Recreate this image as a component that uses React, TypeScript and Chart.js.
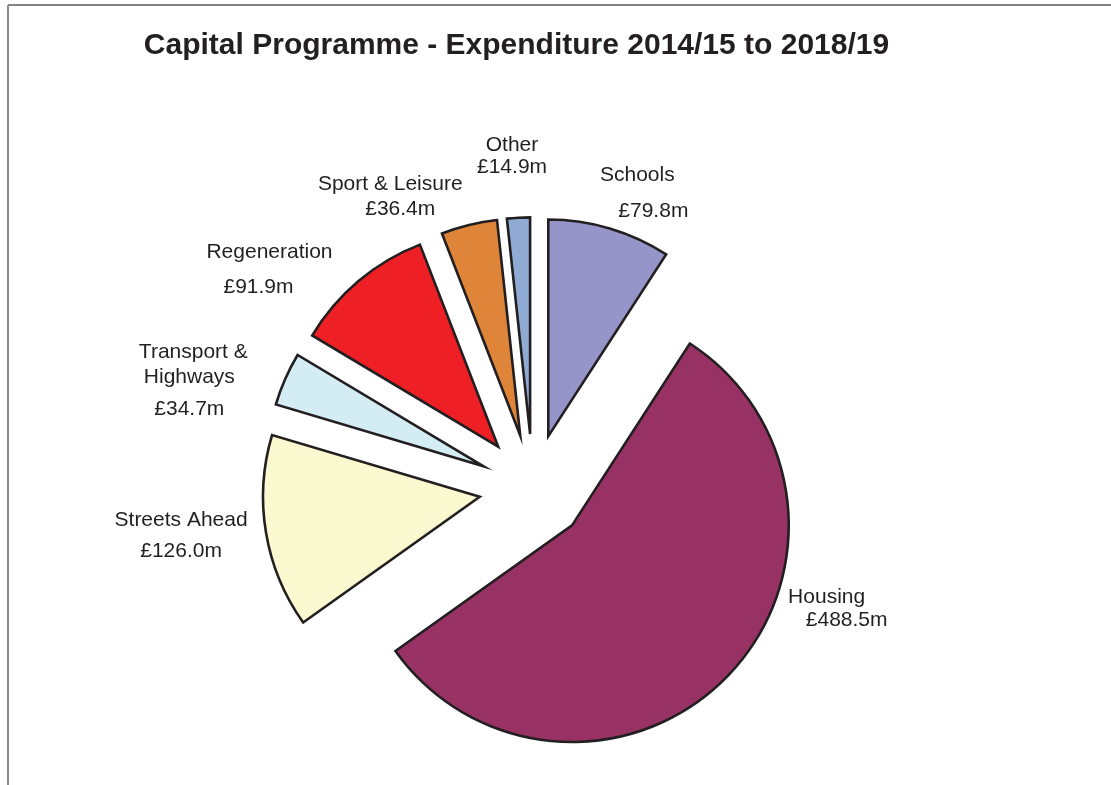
import React, { useEffect, useRef } from "react";
import { Chart, registerables } from "chart.js";

Chart.register(...registerables);

const title = "Capital Programme - Expenditure 2014/15 to 2018/19";
const categories = ["Schools", "Housing", "Streets Ahead", "Transport & Highways", "Regeneration", "Sport & Leisure", "Other"];
const values = [79.8, 488.5, 126.0, 34.7, 91.9, 36.4, 14.9];
const nameLines = [["Schools"], ["Housing"], ["Streets Ahead"], ["Transport &", "Highways"], ["Regeneration"], ["Sport & Leisure"], ["Other"]];
const colors = ["#9595C9", "#983265", "#FAF9CF", "#D4ECF3", "#EE1F25", "#DF853A", "#8FAAD3"];

// explode distance (px) applied equally to every slice
const EXPLODE = 54;

// label placement: polar (deg clockwise from top, multiple of outer radius) + per-line offsets in px
const labelAngle = [20.8, 111.5, 262.5, 287.6, 309.2, 334.75, 356.4];
const labelDist = [1.46, 1.506, 1.638, 1.659, 1.602, 1.49, 1.541];
const lineOffsets = [
  [[-8, -18], [8, 18]],
  [[-10, -11.5], [10, 11.5]],
  [[0, -15.5], [0, 15.5]],
  [[3, -28], [-1, -3], [-1, 29]],
  [[5.5, -17.5], [-5.5, 17.5]],
  [[-5, -12.5], [5, 12.5]],
  [[0, -11], [0, 11]],
];

const TEXT = "#231F20";

const decorPlugin = {
  id: "decor",
  beforeDraw(chart: any) {
    const ctx = chart.ctx;
    ctx.save();
    ctx.strokeStyle = "#5a5a5a";
    ctx.lineWidth = 1.5;
    ctx.beginPath();
    ctx.moveTo(8, 5);
    ctx.lineTo(1111, 5);
    ctx.stroke();
    ctx.strokeStyle = "#8a8a8a";
    ctx.lineWidth = 2;
    ctx.beginPath();
    ctx.moveTo(8, 5);
    ctx.lineTo(8, 785);
    ctx.stroke();
    ctx.fillStyle = TEXT;
    ctx.font = "bold 30px 'Liberation Sans', Arial, sans-serif";
    ctx.textAlign = "center";
    ctx.textBaseline = "middle";
    ctx.fillText(title, 516.5, 46);
    ctx.restore();
  },
  beforeDatasetDraw(chart: any, args: any) {
    const ctx = chart.ctx;
    const meta = args.meta;
    meta.data.forEach((arc: any) => {
      const mid = (arc.startAngle + arc.endAngle) / 2;
      ctx.save();
      ctx.translate(Math.cos(mid) * EXPLODE, Math.sin(mid) * EXPLODE);
      arc.draw(ctx, chart.chartArea);
      ctx.restore();
    });
    return false;
  },
  afterDatasetsDraw(chart: any) {
    const ctx = chart.ctx;
    const meta = chart.getDatasetMeta(0);
    ctx.save();
    ctx.fillStyle = TEXT;
    ctx.font = "21px 'Liberation Sans', Arial, sans-serif";
    ctx.textAlign = "center";
    ctx.textBaseline = "middle";
    meta.data.forEach((arc: any, i: number) => {
      const a = (labelAngle[i] * Math.PI) / 180;
      const d = labelDist[i] * arc.outerRadius;
      const cx = arc.x + Math.sin(a) * d;
      const cy = arc.y - Math.cos(a) * d;
      const lines = [...nameLines[i], `£${values[i].toFixed(1)}m`];
      lines.forEach((t, j) => {
        const off = lineOffsets[i][j] || [0, 0];
        ctx.fillText(t, cx + off[0], cy + off[1] + 1);
      });
    });
    ctx.restore();
  },
};

export default function App() {
  const ref = useRef<HTMLCanvasElement>(null);
  useEffect(() => {
    if (!ref.current) return;
    const chart = new Chart(ref.current, {
      type: "pie",
      data: {
        labels: categories,
        datasets: [
          {
            data: values,
            backgroundColor: colors,
            borderColor: "#231F20",
            borderWidth: 2.6,
            borderJoinStyle: "miter",
          } as any,
        ],
      },
      options: {
        animation: false,
        responsive: true,
        maintainAspectRatio: false,
        devicePixelRatio: 1,
        layout: { padding: { left: 315, right: 360, top: 270, bottom: 79 } },
        plugins: {
          legend: { display: false },
          title: { display: false },
          tooltip: { enabled: false },
        },
      },
      plugins: [decorPlugin],
    });
    return () => chart.destroy();
  }, []);
  return (
    <div style={{ position: "absolute", left: 0, top: 0, width: 1111, height: 785, background: "#fff" }}>
      <canvas ref={ref} />
    </div>
  );
}
